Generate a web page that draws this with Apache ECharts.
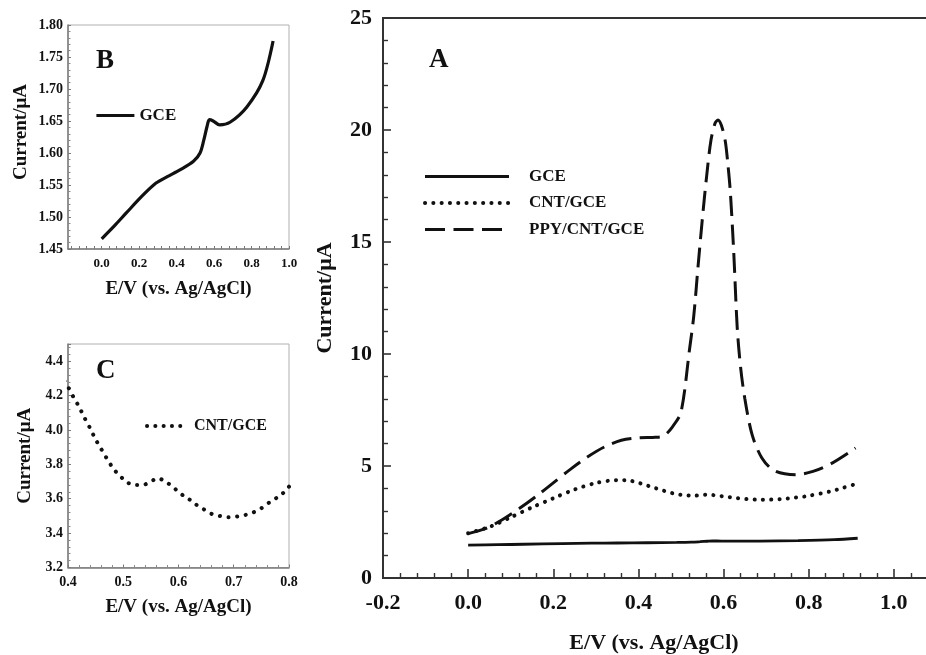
<!DOCTYPE html>
<html>
<head>
<meta charset="utf-8">
<title>DPV responses</title>
<script src="https://cdn.jsdelivr.net/npm/echarts@6/dist/echarts.min.js"></script>
<style>
  html, body { margin: 0; padding: 0; background: #fff; }
  #chart { width: 926px; height: 655px; }
</style>
</head>
<body>
<div id="chart"></div>
<script>
// Differential pulse voltammograms: potential E (V vs. Ag/AgCl) against current (µA)
const gceCurrent = [
  [0.00, 1.466], [0.07, 1.487], [0.13, 1.506], [0.22, 1.534], [0.29, 1.553],
  [0.35, 1.563], [0.42, 1.574], [0.49, 1.587], [0.525, 1.600], [0.545, 1.620],
  [0.562, 1.641], [0.575, 1.652], [0.595, 1.650], [0.63, 1.644], [0.685, 1.648],
  [0.775, 1.672], [0.86, 1.713], [0.915, 1.775]
];

const cntCurrent = [
  [0.00, 2.00], [0.05, 2.28], [0.10, 2.71], [0.15, 3.15], [0.20, 3.56],
  [0.25, 3.95], [0.30, 4.24], [0.35, 4.37], [0.375, 4.36],
  [0.40, 4.25], [0.41, 4.19], [0.42, 4.135], [0.43, 4.07], [0.44, 4.01],
  [0.45, 3.945], [0.46, 3.89], [0.47, 3.835], [0.48, 3.785], [0.49, 3.745],
  [0.50, 3.715], [0.51, 3.69], [0.52, 3.68], [0.535, 3.68], [0.55, 3.70],
  [0.562, 3.72], [0.576, 3.70], [0.59, 3.668], [0.60, 3.64], [0.61, 3.615],
  [0.62, 3.595], [0.63, 3.57], [0.645, 3.54], [0.66, 3.512], [0.675, 3.50],
  [0.69, 3.492], [0.705, 3.496], [0.72, 3.505], [0.735, 3.52], [0.75, 3.545],
  [0.765, 3.58], [0.78, 3.61], [0.79, 3.635], [0.80, 3.67],
  [0.85, 3.86], [0.88, 4.02], [0.91, 4.19]
];

const ppyCurrent = [
  [0.00, 1.98], [0.04, 2.2], [0.08, 2.6], [0.12, 3.1], [0.16, 3.65],
  [0.20, 4.25], [0.24, 4.85], [0.28, 5.4], [0.32, 5.85], [0.36, 6.15],
  [0.40, 6.26], [0.44, 6.28], [0.46, 6.35], [0.48, 6.75], [0.50, 7.4],
  [0.52, 10.2], [0.53, 11.7], [0.54, 13.9], [0.55, 16.0], [0.56, 17.9],
  [0.57, 19.5], [0.58, 20.3], [0.587, 20.45], [0.595, 20.2], [0.604, 19.5],
  [0.61, 18.5], [0.616, 17.2], [0.624, 14.5], [0.632, 11.2], [0.64, 9.4],
  [0.65, 8.0], [0.667, 6.4], [0.69, 5.36], [0.72, 4.78], [0.77, 4.61],
  [0.81, 4.76], [0.855, 5.13], [0.91, 5.8]
];

const seriesNames = ['GCE', 'CNT/GCE', 'PPY/CNT/GCE'];
const panelLetters = ['A', 'B', 'C'];
const insetBXLabels = [0, 0.2, 0.4, 0.6, 0.8, 1.0];

const AXIS_NAME = 'E/V (vs. Ag/AgCl)';
const CURRENT_NAME = 'Current/\u03bcA';
const SERIF = "'Liberation Serif', 'Times New Roman', serif";
const INK = '#111';

// small tick marks along the bottom of inset B
const insetBXTicks = [];
for (let v = -0.16; v <= 1.0001; v += 0.04) insetBXTicks.push(Math.round(v * 100) / 100);

const solidStyle = { color: INK, width: 2.8, type: 'solid' };
const dottedStyle = { color: INK, width: 4, type: [0.1, 8.2], cap: 'round' };
const dashedStyle = { color: INK, width: 3, type: [20, 8.5] };

function boldText(size, extra) {
  return Object.assign({ fontFamily: SERIF, fontWeight: 'bold', fontSize: size, color: INK }, extra || {});
}

function insetAxisBase() {
  return {
    type: 'value',
    axisLine: { show: true, onZero: false, lineStyle: { color: '#7a7a7a', width: 1.5 } },
    axisTick: { show: true, inside: true, length: 3, lineStyle: { color: '#7a7a7a', width: 1 } },
    minorTick: { show: true, splitNumber: 5, length: 2.5, lineStyle: { color: '#8a8a8a', width: 1 } },
    splitLine: { show: false },
    minorSplitLine: { show: false }
  };
}

const chart = echarts.init(document.getElementById('chart'), null, { renderer: 'canvas' });

const option = {
  animation: false,
  backgroundColor: '#fff',
  textStyle: { fontFamily: SERIF },
  title: [
    { text: panelLetters[0], left: 429, top: 47, padding: 0, textStyle: boldText(27) },
    { text: panelLetters[1], left: 96, top: 48, padding: 0, textStyle: boldText(27) },
    { text: panelLetters[2], left: 96, top: 358, padding: 0, textStyle: boldText(27) }
  ],
  grid: [
    { left: 383, top: 18, width: 596, height: 560, show: true, borderColor: '#333', borderWidth: 2, outerBoundsMode: 'none' },
    { left: 68, top: 25, width: 221, height: 224, show: true, borderColor: '#b0b0b0', borderWidth: 1, outerBoundsMode: 'none' },
    { left: 68, top: 344, width: 221, height: 223.5, show: true, borderColor: '#b0b0b0', borderWidth: 1, outerBoundsMode: 'none' }
  ],
  legend: [
    {
      data: seriesNames, orient: 'vertical', left: 423, top: 168, padding: 0,
      itemWidth: 84, itemHeight: 14, itemGap: 9.5,
      itemStyle: { opacity: 0, borderWidth: 0 },
      lineStyle: { width: 'inherit' },
      textStyle: boldText(17, { padding: [0, 0, 0, 15] }),
      selectedMode: false
    },
    {
      data: [seriesNames[0]], orient: 'vertical', left: 95, top: 107, padding: 0,
      itemWidth: 38, itemHeight: 14,
      itemStyle: { opacity: 0, borderWidth: 0 },
      lineStyle: { width: 'inherit' },
      textStyle: boldText(17),
      selectedMode: false
    },
    {
      data: [seriesNames[1]], orient: 'vertical', left: 145, top: 418, padding: 0,
      itemWidth: 36, itemHeight: 14,
      itemStyle: { opacity: 0, borderWidth: 0 },
      lineStyle: { width: 'inherit' },
      textStyle: boldText(16, { padding: [0, 0, 0, 6] }),
      selectedMode: false
    }
  ],
  xAxis: [
    {
      gridIndex: 0, type: 'value', min: -0.2, max: 1.2, interval: 0.2,
      axisLine: { show: true, onZero: false, lineStyle: { color: '#333', width: 2 } },
      axisTick: { show: true, inside: true, length: 9, lineStyle: { color: '#333', width: 1.6 } },
      minorTick: { show: true, splitNumber: 5, length: 5, lineStyle: { color: '#333', width: 1.4 } },
      splitLine: { show: false },
      axisLabel: Object.assign(boldText(22), { margin: 14, formatter: v => v.toFixed(1) }),
      name: AXIS_NAME, nameLocation: 'middle', nameGap: 54,
      nameTextStyle: boldText(22, { padding: [0, 54, 0, 0] })
    },
    Object.assign(insetAxisBase(), {
      gridIndex: 1, min: -0.18, max: 1.0,
      axisTick: { show: true, inside: true, length: 3, customValues: insetBXTicks, lineStyle: { color: '#7a7a7a', width: 1 } },
      minorTick: { show: false },
      axisLabel: Object.assign(boldText(13), { margin: 8, customValues: insetBXLabels, formatter: v => v.toFixed(1) }),
      name: AXIS_NAME, nameLocation: 'middle', nameGap: 31,
      nameTextStyle: boldText(19)
    }),
    Object.assign(insetAxisBase(), {
      gridIndex: 2, min: 0.4, max: 0.8, interval: 0.1,
      axisLabel: Object.assign(boldText(14), { margin: 8, formatter: v => v.toFixed(1) }),
      name: AXIS_NAME, nameLocation: 'middle', nameGap: 30,
      nameTextStyle: boldText(19)
    })
  ],
  yAxis: [
    {
      gridIndex: 0, type: 'value', min: 0, max: 25, interval: 5,
      axisLine: { show: true, onZero: false, lineStyle: { color: '#333', width: 2 } },
      axisTick: { show: true, inside: true, length: 8, lineStyle: { color: '#333', width: 1.6 } },
      minorTick: { show: true, splitNumber: 5, length: 5, lineStyle: { color: '#333', width: 1.4 } },
      splitLine: { show: false },
      axisLabel: Object.assign(boldText(22), { margin: 11 }),
      name: CURRENT_NAME, nameLocation: 'middle', nameGap: 47,
      nameTextStyle: boldText(22)
    },
    Object.assign(insetAxisBase(), {
      gridIndex: 1, min: 1.45, max: 1.80, interval: 0.05,
      axisLabel: Object.assign(boldText(14), { margin: 5, formatter: v => v.toFixed(2) }),
      name: CURRENT_NAME, nameLocation: 'middle', nameGap: 37,
      nameTextStyle: boldText(19, { padding: [0, 0, 0, 10] })
    }),
    Object.assign(insetAxisBase(), {
      gridIndex: 2, min: 3.2, max: 4.5, interval: 0.2,
      axisLabel: Object.assign(boldText(14), { margin: 5, formatter: v => (v > 4.45 ? '' : v.toFixed(1)) }),
      name: CURRENT_NAME, nameLocation: 'middle', nameGap: 33,
      nameTextStyle: boldText(19)
    })
  ],
  series: [
    { name: seriesNames[0], type: 'line', xAxisIndex: 0, yAxisIndex: 0, data: gceCurrent,
      smooth: 0.3, symbol: 'none', lineStyle: solidStyle },
    { name: seriesNames[1], type: 'line', xAxisIndex: 0, yAxisIndex: 0, data: cntCurrent,
      smooth: 0.3, symbol: 'none', lineStyle: dottedStyle },
    { name: seriesNames[2], type: 'line', xAxisIndex: 0, yAxisIndex: 0, data: ppyCurrent,
      smooth: 0.3, symbol: 'none', lineStyle: dashedStyle },
    { name: seriesNames[0], type: 'line', xAxisIndex: 1, yAxisIndex: 1, data: gceCurrent,
      smooth: 0.3, symbol: 'none', lineStyle: Object.assign({}, solidStyle, { width: 3.2 }) },
    { name: seriesNames[1], type: 'line', xAxisIndex: 2, yAxisIndex: 2, data: cntCurrent,
      smooth: 0.3, symbol: 'none', clip: true, lineStyle: Object.assign({}, dottedStyle, { width: 4, type: [0.1, 8.6] }) }
  ]
};

chart.setOption(option);
</script>
</body>
</html>
